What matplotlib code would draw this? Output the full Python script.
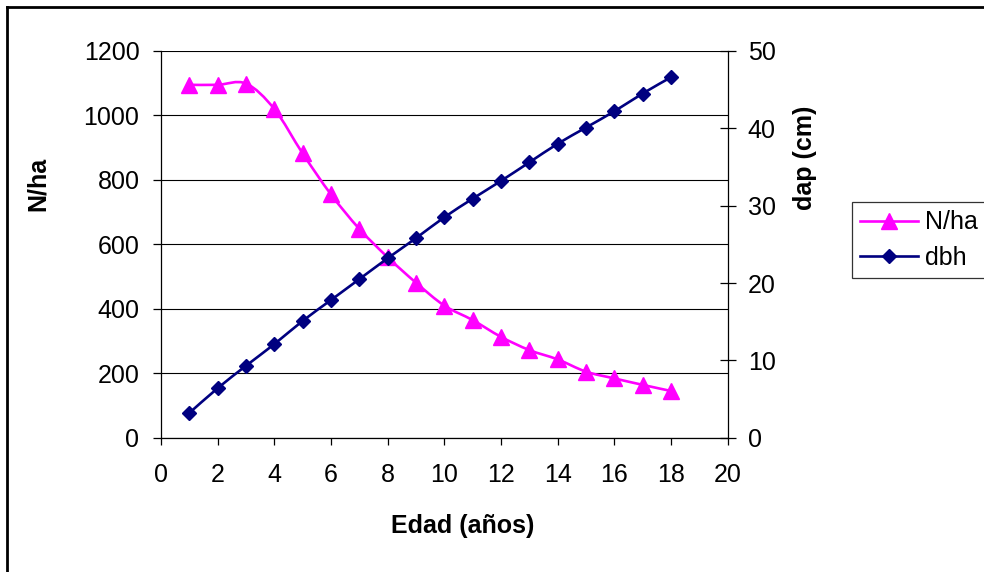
import numpy as np
import matplotlib
matplotlib.use('Agg')
import matplotlib.pyplot as plt
from matplotlib.path import Path
from matplotlib.patches import PathPatch
from matplotlib.lines import Line2D

plt.rcParams['font.family'] = ['Liberation Sans', 'DejaVu Sans']

# data
edad = [1, 2, 3, 4, 5, 6, 7, 8, 9, 10, 11, 12, 13, 14, 15, 16, 17, 18]
n_ha = [1095, 1095, 1099, 1020, 882, 755, 648, 560, 481, 410, 365, 313, 272, 243, 205, 184, 164, 145]
dbh = [3.2, 6.4, 9.3, 12.1, 15.1, 17.8, 20.5, 23.2, 25.8, 28.5, 30.9, 33.2, 35.6, 38.0, 40.1, 42.2, 44.5, 46.6]

x_ticks = list(range(0, 21, 2))
left_ticks = list(range(0, 1201, 200))
right_ticks = list(range(0, 51, 10))

MAGENTA = '#FF00FF'
NAVY = '#000080'
FS = 18
LW = 1.9


def smooth_path(x, y):
    # Excel-like smoothed line: Catmull-Rom segments as cubic Bezier curves
    pts = np.column_stack([x, y]).astype(float)
    ext = np.vstack([pts[0], pts, pts[-1]])
    verts = [pts[0]]
    codes = [Path.MOVETO]
    for i in range(len(pts) - 1):
        p0, p1, p2, p3 = ext[i], ext[i + 1], ext[i + 2], ext[i + 3]
        verts += [p1 + (p2 - p0) / 6, p2 - (p3 - p1) / 6, p2]
        codes += [Path.CURVE4] * 3
    return Path(verts, codes)


W, H = 984, 572
fig = plt.figure(figsize=(W / 100, H / 100), dpi=100)
x0, x1, y0, y1 = 161, 727.6, 437.7, 51
ax = fig.add_axes([x0 / W, 1 - y0 / H, (x1 - x0) / W, (y0 - y1) / H])
ax2 = ax.twinx()

# N/ha on left axis
ax.add_patch(PathPatch(smooth_path(edad, n_ha), fill=False, edgecolor=MAGENTA, lw=LW, zorder=3))
ax.plot(edad, n_ha, ls='none', marker='^', ms=11.5, color=MAGENTA, zorder=4)

# dbh on right axis
ax2.add_patch(PathPatch(smooth_path(edad, dbh), fill=False, edgecolor=NAVY, lw=LW, zorder=3))
ax2.plot(edad, dbh, ls='none', marker='D', ms=7.4, color=NAVY, zorder=4)

ax.set_xlim(0, 20)
ax.set_ylim(0, 1200)
ax2.set_ylim(0, 50)
ax.set_xticks(x_ticks)
ax.set_yticks(left_ticks)
ax2.set_yticks(right_ticks)

ax.yaxis.grid(True, color='black', lw=0.8)
ax.set_axisbelow(True)

for a in (ax, ax2):
    a.spines['top'].set_visible(False)
    for s in a.spines.values():
        s.set_linewidth(0.9)
        s.set_color('black')
ax2.spines['left'].set_visible(False)
ax2.spines['bottom'].set_visible(False)
ax.spines['right'].set_visible(False)

ax.tick_params(axis='x', direction='out', length=5, width=0.9, pad=13, labelsize=FS)
ax.tick_params(axis='y', direction='out', length=6, width=0.9, pad=9.5, labelsize=FS)
ax2.tick_params(axis='y', direction='inout', length=11, width=0.9, pad=9, labelsize=FS)

# axis titles positioned like the reference
fig.text(38 / W, 1 - 183.5 / H, 'N/ha', rotation=90, ha='center', va='center',
         fontsize=FS, fontweight='bold')
fig.text(805 / W, 1 - 157.5 / H, 'dap (cm)', rotation=90, ha='center', va='center',
         fontsize=FS, fontweight='bold')
fig.text(463 / W, 1 - 526.5 / H, 'Edad (años)', ha='center', va='center',
         fontsize=FS, fontweight='bold')

handles = [
    Line2D([], [], color=MAGENTA, lw=LW, marker='^', ms=11.5),
    Line2D([], [], color=NAVY, lw=LW, marker='D', ms=7.4),
]
leg = fig.legend(handles, ['N/ha', 'dbh'], loc='upper left',
                 bbox_to_anchor=(851.7 / W, 1 - 201.7 / H), borderaxespad=0,
                 fontsize=FS, frameon=True, fancybox=False, handlelength=2.3,
                 handletextpad=0.3, borderpad=0.35, labelspacing=0.45)
leg.get_frame().set_edgecolor('black')
leg.get_frame().set_linewidth(0.9)

# outer chart frame (left and top edges visible)
fig.add_artist(Line2D([6.7 / W, 6.7 / W], [0, 1 - 7 / H], color='black', lw=2,
                      transform=fig.transFigure))
fig.add_artist(Line2D([6.7 / W, 1], [1 - 7 / H, 1 - 7 / H], color='black', lw=2,
                      transform=fig.transFigure))

fig.savefig('out.png', dpi=100)
